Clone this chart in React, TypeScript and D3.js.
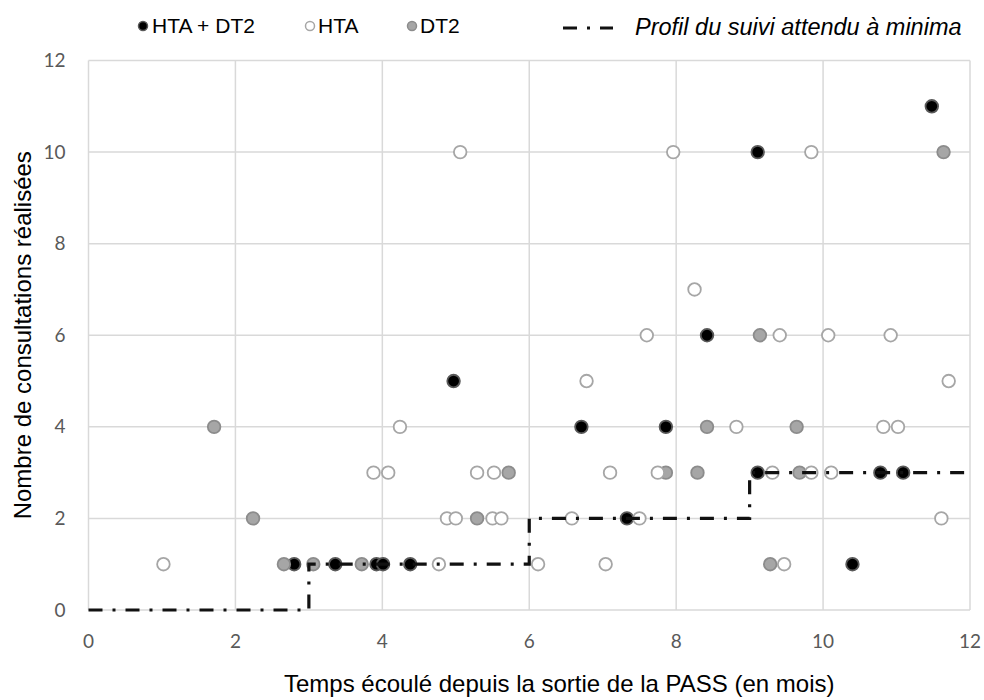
import React from 'react';
import * as d3 from 'd3';

// [mois, nb consultations]
const HTA_DT2: [number, number][] = [
    [2.80, 1], [3.36, 1], [3.92, 1], [4.01, 1], [4.38, 1], [4.97, 5], [6.71, 4], [7.33, 2],
    [7.86, 4], [8.42, 6], [9.11, 10], [9.11, 3], [10.40, 1], [10.78, 3], [11.09, 3], [11.48, 11],
];
const HTA: [number, number][] = [
    [1.02, 1], [3.88, 3], [4.08, 3], [4.24, 4], [4.77, 1], [4.88, 2], [5.00, 2], [5.06, 10],
    [5.29, 3], [5.50, 2], [5.52, 3], [5.62, 2], [6.12, 1], [6.58, 2], [6.78, 5], [7.04, 1],
    [7.10, 3], [7.50, 2], [7.60, 6], [7.75, 3], [7.96, 10], [8.25, 7], [8.82, 4], [9.31, 3],
    [9.41, 6], [9.47, 1], [9.84, 10], [9.84, 3], [10.07, 6], [10.11, 3], [10.82, 4], [10.92, 6],
    [11.02, 4], [11.61, 2], [11.71, 5],
];
const DT2: [number, number][] = [
    [1.71, 4], [2.24, 2], [2.66, 1], [3.06, 1], [3.72, 1], [5.29, 2], [5.72, 3], [7.86, 3],
    [8.29, 3], [8.42, 4], [9.14, 6], [9.28, 1], [9.64, 4], [9.68, 3], [11.64, 10],
];
// profil attendu : paliers
const PROFILE_MONTHS = [0, 3, 6, 9, 12];
const PROFILE_LEVELS = [0, 1, 2, 3, 3];

const X_TICKS = [0, 2, 4, 6, 8, 10, 12];
const Y_TICKS = [0, 2, 4, 6, 8, 10, 12];

const W = 984;
const H = 700;
const PLOT = { left: 88.5, right: 970, top: 60.5, bottom: 610 };

const GRID = '#d9d9d9';
const TICK_COLOR = '#595959';
const DASH = '14,10,3,10';

const App = () => {
    const x = d3.scaleLinear().domain([0, 12]).range([PLOT.left, PLOT.right]);
    const y = d3.scaleLinear().domain([0, 12]).range([PLOT.bottom, PLOT.top]);

    const profileLine = d3.line<number>()
        .x((_, i) => x(PROFILE_MONTHS[i]))
        .y(d => y(d))
        .curve(d3.curveStepAfter);

    const series = [
        { data: HTA_DT2, fill: '#000000', stroke: '#595959' },
        { data: DT2, fill: '#a6a6a6', stroke: '#8c8c8c' },
        { data: HTA, fill: '#ffffff', stroke: '#a6a6a6' },
    ];

    return (
        <svg width={W} height={H} style={{ position: 'fixed', left: 0, top: 0 }}>
            <rect width={W} height={H} fill="#fff" />

            {/* grille */}
            {X_TICKS.map(t => (
                <line key={'gx' + t} x1={x(t)} x2={x(t)} y1={PLOT.top} y2={PLOT.bottom}
                    stroke={GRID} strokeWidth={1.5} />
            ))}
            {Y_TICKS.map(t => (
                <line key={'gy' + t} x1={PLOT.left} x2={PLOT.right} y1={y(t)} y2={y(t)}
                    stroke={GRID} strokeWidth={1.5} />
            ))}

            {/* ticks */}
            <g fontFamily="Lato, 'Open Sans', sans-serif" fontSize={19} fill={TICK_COLOR}>
                {Y_TICKS.map(t => (
                    <text key={'ty' + t} x={PLOT.left - 23} y={y(t)} dy="0.35em" textAnchor="end">{t}</text>
                ))}
                {X_TICKS.map(t => (
                    <text key={'tx' + t} x={x(t)} y={PLOT.bottom + 38} textAnchor="middle">{t}</text>
                ))}
            </g>

            {/* points */}
            {series.map((s, si) => (
                <g key={si}>
                    {s.data.map((d, i) => (
                        <circle key={i} cx={x(d[0])} cy={y(d[1])} r={6.3}
                            fill={s.fill} stroke={s.stroke} strokeWidth={1.8} />
                    ))}
                </g>
            ))}

            {/* profil attendu */}
            <path d={profileLine(PROFILE_LEVELS) || ''} fill="none" stroke="#111" strokeWidth={3.2}
                strokeDasharray={DASH} />

            {/* titres */}
            <g fontFamily="'Liberation Sans', Arial, sans-serif" fill="#000" fontSize={24}>
                <text x={284} y={692}>
                    Temps écoulé depuis la sortie de la PASS (en mois)
                </text>
                <text transform={`translate(31,${(PLOT.top + PLOT.bottom) / 2}) rotate(-90)`}
                    textAnchor="middle">
                    Nombre de consultations réalisées
                </text>
            </g>

            {/* légende */}
            <g fontFamily="'Liberation Sans', Arial, sans-serif" fontSize={21} fill="#000">
                <circle cx={143} cy={26} r={4.5} fill="#000" stroke="#595959" strokeWidth={1.5} />
                <text x={152} y={33}>HTA + DT2</text>
                <circle cx={310} cy={26} r={4.5} fill="#fff" stroke="#a6a6a6" strokeWidth={1.5} />
                <text x={318} y={33}>HTA</text>
                <circle cx={412} cy={26} r={4.5} fill="#a6a6a6" stroke="#8c8c8c" strokeWidth={1.5} />
                <text x={420} y={33}>DT2</text>
                <line x1={563} x2={613} y1={28} y2={28} stroke="#111" strokeWidth={3.2}
                    strokeDasharray={DASH} />
                <text x={635} y={35} fontStyle="italic" fontSize={23.5}>Profil du suivi attendu à minima</text>
            </g>
        </svg>
    );
};

export default App;
